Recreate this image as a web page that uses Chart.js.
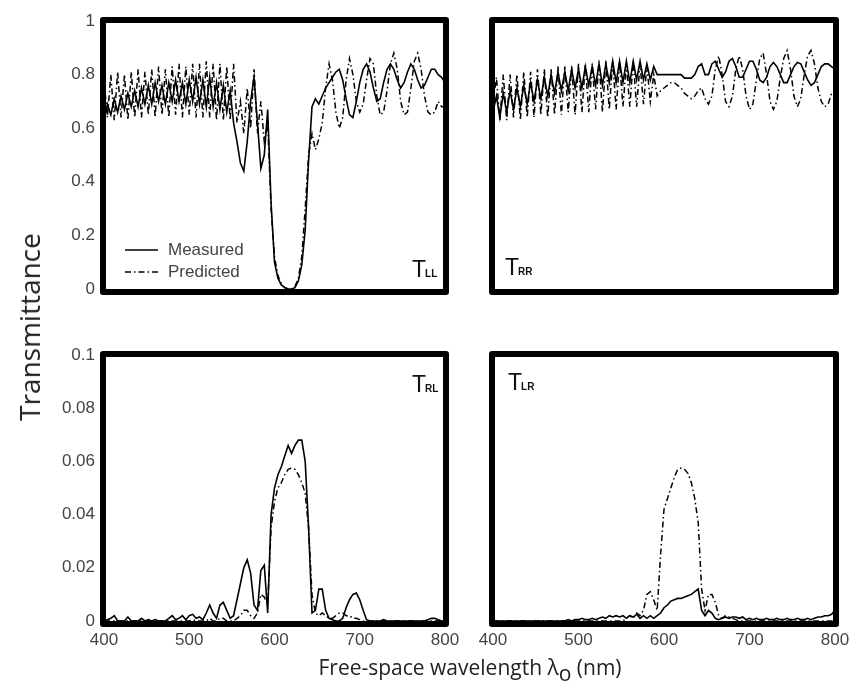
<!DOCTYPE html>
<html>
<head>
<meta charset="utf-8">
<script src="https://cdn.jsdelivr.net/npm/chart.js@4.4.1/dist/chart.umd.min.js"></script>
<style>
  html, body { margin: 0; padding: 0; background: #fff; }
  body { width: 850px; height: 687px; position: relative; overflow: hidden; }
  canvas.panel { position: absolute; left: 0; top: 0; }
  .ytitle { position: absolute; left: 29px; top: 327px; transform: translate(-50%, -50%) rotate(-90deg);
            font-family: "Open Sans", "Noto Sans", sans-serif; font-size: 28px; color: #222; white-space: nowrap; }
  .xtitle { position: absolute; left: 470px; top: 667px; transform: translate(-50%, -50%);
            font-family: "Open Sans", "Noto Sans", sans-serif; font-size: 21px; color: #222; white-space: nowrap; }
  .xtitle sub { font-size: 21px; vertical-align: -6px; line-height: 0; }
</style>
</head>
<body>
<canvas id="tll" class="panel" width="900" height="720"></canvas>
<canvas id="trr" class="panel" width="900" height="720"></canvas>
<canvas id="trl" class="panel" width="900" height="720"></canvas>
<canvas id="tlr" class="panel" width="900" height="720"></canvas>
<div class="ytitle">Transmittance</div>
<div class="xtitle">Free-space wavelength λ<sub>o</sub> (nm)</div>
<script>
// ---------------- data ----------------
const wavelength = [400,404,408,412,416,420,424,428,432,436,
  440,444,448,452,456,460,464,468,472,476,
  480,484,488,492,496,500,504,508,512,516,
  520,524,528,532,536,540,544,548,552,556,
  560,564,568,572,576,580,584,588,592,596,
  600,604,608,612,616,620,624,628,632,636,
  640,644,648,652,656,660,664,668,672,676,
  680,684,688,692,696,700,704,708,712,716,
  720,724,728,732,736,740,744,748,752,756,
  760,764,768,772,776,780,784,788,792,796,
  800];

const xTickLabels = ['400','500','600','700','800'];
const yTickLabelsTop = ['0','0.2','0.4','0.6','0.8','1'];
const yTickLabelsBottom = ['0','0.02','0.04','0.06','0.08','0.1'];
const seriesNames = ['Measured','Predicted'];

const tllMeasured = [0.62,0.69,0.65,0.71,0.66,0.72,0.67,0.73,0.68,0.74,
  0.68,0.75,0.69,0.76,0.69,0.77,0.70,0.76,0.69,0.77,
  0.70,0.78,0.70,0.77,0.69,0.78,0.70,0.79,0.69,0.78,
  0.68,0.79,0.68,0.77,0.67,0.76,0.66,0.74,0.62,0.55,
  0.47,0.44,0.55,0.70,0.79,0.62,0.45,0.50,0.67,0.32,
  0.10,0.04,0.015,0.005,0,0,0.005,0.03,0.09,0.22,
  0.48,0.68,0.71,0.69,0.72,0.75,0.77,0.79,0.81,0.82,
  0.78,0.71,0.65,0.64,0.70,0.77,0.82,0.84,0.81,0.75,
  0.70,0.71,0.77,0.82,0.84,0.82,0.78,0.75,0.77,0.81,
  0.84,0.82,0.78,0.75,0.76,0.79,0.82,0.82,0.80,0.79,
  0.77];
const tllPredicted = [0.78,0.64,0.80,0.63,0.81,0.64,0.80,0.63,0.81,0.64,
  0.82,0.64,0.81,0.65,0.82,0.64,0.83,0.65,0.82,0.64,
  0.83,0.65,0.84,0.64,0.83,0.65,0.84,0.64,0.84,0.64,
  0.85,0.64,0.84,0.63,0.84,0.63,0.83,0.63,0.84,0.62,
  0.70,0.58,0.75,0.60,0.82,0.58,0.70,0.55,0.62,0.30,
  0.12,0.05,0.02,0.005,0,0,0.01,0.04,0.12,0.30,
  0.50,0.58,0.52,0.56,0.62,0.75,0.84,0.78,0.66,0.60,
  0.64,0.78,0.86,0.80,0.70,0.66,0.69,0.78,0.86,0.84,
  0.72,0.65,0.66,0.74,0.84,0.88,0.82,0.70,0.65,0.66,
  0.75,0.85,0.88,0.82,0.72,0.66,0.65,0.66,0.70,0.68,
  0.68];

const trrMeasured = [0.66,0.72,0.64,0.73,0.66,0.74,0.67,0.75,0.68,0.76,
  0.69,0.77,0.70,0.78,0.71,0.79,0.72,0.80,0.73,0.81,
  0.74,0.81,0.74,0.82,0.75,0.82,0.75,0.83,0.76,0.83,
  0.76,0.84,0.76,0.84,0.77,0.85,0.77,0.85,0.77,0.85,
  0.77,0.85,0.78,0.85,0.78,0.84,0.78,0.83,0.80,0.80,
  0.80,0.80,0.80,0.80,0.80,0.80,0.787,0.787,0.787,0.80,
  0.83,0.84,0.80,0.80,0.84,0.85,0.82,0.79,0.81,0.85,
  0.86,0.83,0.79,0.79,0.82,0.85,0.85,0.82,0.78,0.77,
  0.79,0.83,0.845,0.83,0.80,0.77,0.77,0.80,0.83,0.845,
  0.84,0.81,0.78,0.76,0.77,0.80,0.83,0.84,0.84,0.83,
  0.82];
const trrPredicted = [0.70,0.79,0.63,0.80,0.63,0.80,0.64,0.80,0.63,0.81,
  0.64,0.81,0.64,0.82,0.65,0.82,0.64,0.82,0.65,0.83,
  0.65,0.83,0.66,0.83,0.65,0.84,0.66,0.84,0.66,0.84,
  0.67,0.85,0.66,0.85,0.67,0.85,0.67,0.85,0.68,0.84,
  0.68,0.85,0.68,0.84,0.69,0.83,0.70,0.80,0.72,0.74,
  0.75,0.76,0.77,0.77,0.76,0.75,0.73,0.72,0.71,0.72,
  0.74,0.75,0.71,0.69,0.72,0.82,0.87,0.80,0.70,0.68,
  0.72,0.82,0.87,0.82,0.72,0.67,0.69,0.78,0.86,0.88,
  0.80,0.70,0.67,0.70,0.79,0.86,0.89,0.82,0.72,0.68,
  0.71,0.80,0.87,0.89,0.84,0.75,0.70,0.68,0.69,0.73,
  0.72];

const trlMeasured = [0,0.0005,0.001,0.002,0,0,0,0.0015,0,0,
  0,0.001,0,0.0005,0,0.0005,0,0,0,0.001,
  0.002,0.0005,0.001,0.002,0.0005,0.002,0.0025,0.001,0.0015,0.0005,
  0.003,0.006,0.003,0.001,0.006,0.007,0.004,0.001,0.002,0.008,
  0.014,0.020,0.023,0.018,0.006,0.004,0.019,0.021,0.003,0.040,
  0.050,0.055,0.058,0.062,0.066,0.063,0.066,0.068,0.068,0.060,
  0.035,0.003,0.004,0.012,0.012,0.004,0.001,0.0005,0,0,
  0.001,0.005,0.008,0.010,0.0105,0.008,0.004,0.0005,0,0,
  0,0,0.0005,0,0,0,0,0,0,0,
  0,0,0,0,0,0.0005,0.001,0.001,0.0005,0,
  0];
const trlPredicted = [0,0,0,0,0,0,0,0,0,0,
  0,0,0,0,0,0,0,0,0,0,
  0,0,0,0,0,0,0.0005,0,0,0,
  0,0.001,0,0,0.001,0.001,0,0,0,0.001,
  0.002,0.004,0.004,0.002,0.001,0.003,0.010,0.009,0.006,0.035,
  0.045,0.050,0.052,0.055,0.057,0.0575,0.057,0.055,0.052,0.048,
  0.035,0.010,0.003,0.002,0.003,0.002,0.001,0.001,0.002,0.003,
  0.003,0.002,0.002,0.001,0.001,0.0005,0,0,0,0,
  0,0,0,0,0,0,0,0,0,0,
  0,0,0,0,0,0,0,0,0,0,
  0];

const tlrMeasured = [0,0,0,0,0,0,0,0,0,0,
  0,0,0,0,0,0,0,0,0,0,
  0,0,0.0005,0,0.0005,0.0005,0.001,0.0005,0.0005,0.001,
  0.0005,0.001,0.0015,0.001,0.002,0.0015,0.002,0.0015,0.002,0.001,
  0.002,0.0015,0.0025,0.001,0.002,0.001,0.002,0.001,0.002,0.003,
  0.005,0.006,0.0075,0.008,0.0085,0.0085,0.009,0.0095,0.010,0.011,
  0.012,0.004,0.002,0.004,0.003,0.001,0.0005,0.001,0.0015,0.001,
  0.0015,0.0015,0.001,0.0015,0.0005,0.001,0.0005,0.001,0.0005,0.0005,
  0.001,0.0005,0.0005,0.001,0.0005,0.0005,0.001,0.0005,0.0005,0.001,
  0.0005,0.0005,0.001,0.0005,0.001,0.0015,0.0015,0.002,0.002,0.0025,
  0.004];
const tlrPredicted = [0,0,0,0,0,0,0,0,0,0,
  0,0,0,0,0,0,0,0,0,0,
  0,0,0,0,0,0,0,0,0,0,
  0,0,0,0,0,0,0,0,0,0.001,
  0.002,0.001,0.003,0.002,0.004,0.010,0.011,0.008,0.004,0.025,
  0.042,0.046,0.050,0.054,0.057,0.0575,0.057,0.0555,0.052,0.046,
  0.037,0.012,0.004,0.010,0.010,0.007,0.002,0.001,0.002,0.0015,
  0.001,0.0005,0,0,0,0,0,0,0,0,
  0,0,0,0,0,0,0,0,0,0,
  0,0,0,0,0,0,0,0,0,0,
  0];

// ---------------- rendering ----------------
const CANVAS_W = 900, CANVAS_H = 720;
const TICK_FONT = { family: '"Liberation Sans", Arial, sans-serif', size: 17 };
const TICK_COLOR = '#444';
const Y_AXIS_W = 60, X_AXIS_H = 30;

const toPoints = ys => wavelength.map((x, i) => ({ x, y: ys[i] }));

const framePlugin = {
  id: 'frameAndLabels',
  afterDatasetsDraw(chart, args, opts) {
    const { ctx, chartArea: a } = chart;
    ctx.save();
    ctx.strokeStyle = '#000';
    ctx.lineWidth = 6;
    ctx.lineJoin = 'round';
    ctx.strokeRect(a.left - 1, a.top - 1, a.right - a.left + 2, a.bottom - a.top + 4);

    // panel label: T with subscript
    const lx = opts.labelAlign === 'right' ? a.right - opts.labelDx : a.left + opts.labelDx;
    const ly = opts.labelFromTop ? a.top + opts.labelDy : a.bottom - opts.labelDy;
    ctx.fillStyle = '#111';
    ctx.textBaseline = 'alphabetic';
    ctx.textAlign = 'left';
    ctx.font = '23px "Liberation Sans", Arial, sans-serif';
    ctx.fillText('T', lx, ly);
    const tw = ctx.measureText('T').width;
    ctx.font = 'bold 10px "Liberation Sans", Arial, sans-serif';
    ctx.fillText(opts.sub, lx + tw - 1, ly);

    if (opts.legend) {
      const x0 = a.left + 21, x1 = a.left + 54;
      const rows = [a.top + 229, a.top + 251];
      chart.data.datasets.forEach((ds, i) => {
        ctx.beginPath();
        ctx.lineWidth = ds.borderWidth;
        ctx.setLineDash(ds.borderDash || []);
        ctx.moveTo(x0, rows[i]);
        ctx.lineTo(x1, rows[i]);
        ctx.stroke();
        ctx.setLineDash([]);
        ctx.fillStyle = TICK_COLOR;
        ctx.font = '17px "Liberation Sans", Arial, sans-serif';
        ctx.textBaseline = 'middle';
        ctx.fillText(ds.label, a.left + 64, rows[i]);
      });
    }
    ctx.restore();
  }
};

function makePanel(id, box, measured, predicted, cfg) {
  const showY = !!cfg.yLabels, showX = !!cfg.showX;
  const padding = {
    left: box.left - (showY ? Y_AXIS_W : 0),
    top: box.top,
    right: CANVAS_W - box.right,
    bottom: CANVAS_H - box.bottom - (showX ? X_AXIS_H : 0)
  };
  return new Chart(document.getElementById(id), {
    type: 'line',
    data: {
      datasets: [
        { label: seriesNames[0], data: toPoints(measured), borderColor: '#000', borderWidth: 1.6,
          pointRadius: 0, tension: 0, fill: false },
        { label: seriesNames[1], data: toPoints(predicted), borderColor: '#000', borderWidth: 1.5,
          borderDash: [6, 3, 1.5, 3], pointRadius: 0, tension: 0, fill: false }
      ]
    },
    options: {
      responsive: false,
      animation: false,
      events: [],
      layout: { padding },
      plugins: {
        legend: { display: false },
        tooltip: { enabled: false },
        frameAndLabels: cfg.label
      },
      scales: {
        x: {
          type: 'linear', min: 400, max: 800, display: showX,
          grid: { display: false, drawTicks: false }, border: { display: false },
          afterFit: s => { s.height = showX ? X_AXIS_H : 0; },
          ticks: { stepSize: 100, autoSkip: false, maxRotation: 0, padding: 9,
                   font: TICK_FONT, color: TICK_COLOR,
                   callback: (v, i) => xTickLabels[i] }
        },
        y: {
          type: 'linear', min: 0, max: cfg.yMax, display: showY,
          grid: { display: false, drawTicks: false }, border: { display: false },
          afterFit: s => { s.width = showY ? Y_AXIS_W : 0; },
          ticks: { stepSize: cfg.yStep, autoSkip: false, padding: 9,
                   font: TICK_FONT, color: TICK_COLOR,
                   callback: (v, i) => (cfg.yLabels ? cfg.yLabels[i] : '') }
        }
      }
    },
    plugins: [framePlugin]
  });
}

makePanel('tll', { left: 104, top: 21, right: 445, bottom: 289 }, tllMeasured, tllPredicted,
  { yMax: 1, yStep: 0.2, yLabels: yTickLabelsTop, showX: false,
    label: { sub: 'LL', labelAlign: 'right', labelDx: 33, labelFromTop: false, labelDy: 12, legend: true } });
makePanel('trr', { left: 493, top: 21, right: 835, bottom: 289 }, trrMeasured, trrPredicted,
  { yMax: 1, yStep: 0.2, yLabels: null, showX: false,
    label: { sub: 'RR', labelAlign: 'left', labelDx: 12, labelFromTop: false, labelDy: 14, legend: false } });
makePanel('trl', { left: 104, top: 355, right: 445, bottom: 621 }, trlMeasured, trlPredicted,
  { yMax: 0.1, yStep: 0.02, yLabels: yTickLabelsBottom, showX: true,
    label: { sub: 'RL', labelAlign: 'right', labelDx: 33, labelFromTop: true, labelDy: 37, legend: false } });
makePanel('tlr', { left: 493, top: 355, right: 835, bottom: 621 }, tlrMeasured, tlrPredicted,
  { yMax: 0.1, yStep: 0.02, yLabels: null, showX: true,
    label: { sub: 'LR', labelAlign: 'left', labelDx: 15, labelFromTop: true, labelDy: 35, legend: false } });
</script>
</body>
</html>
